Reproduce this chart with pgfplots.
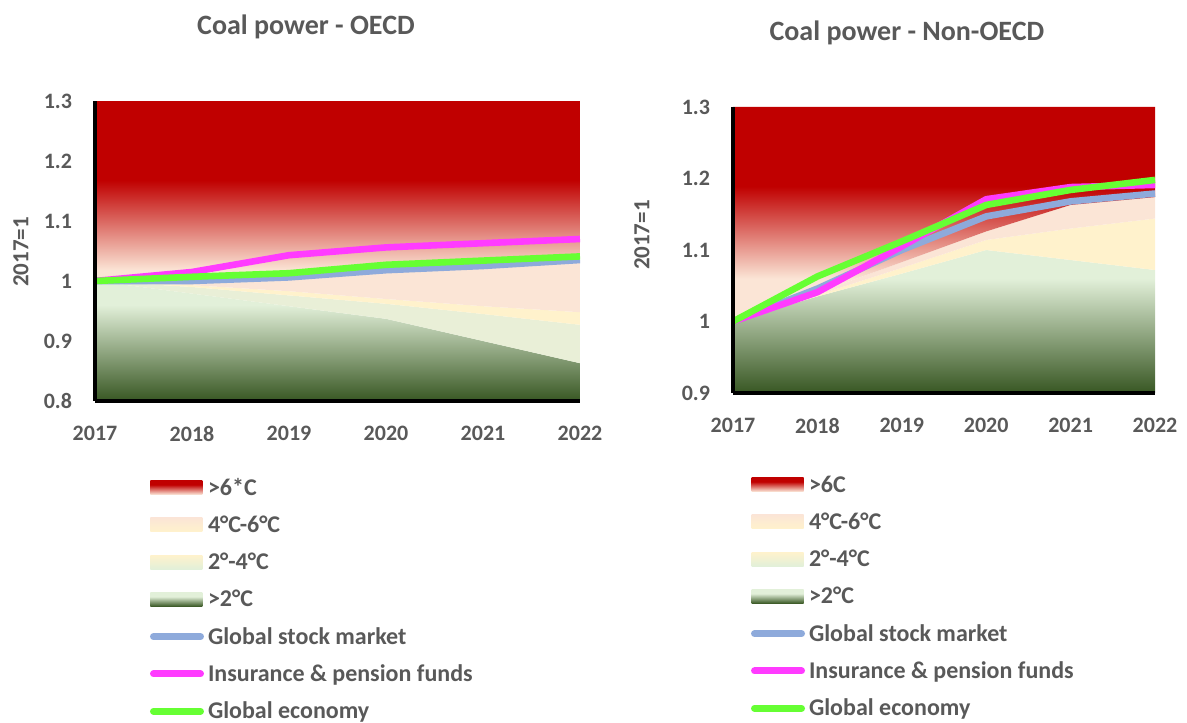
\documentclass[border=0pt]{standalone}
\usepackage{fontspec}
\setmainfont{Carlito}
\usepackage{pgfplots}
\pgfplotsset{compat=1.18}

\definecolor{txt}{HTML}{595959}
\definecolor{cred}{HTML}{C00000}
\definecolor{cpeach}{HTML}{FBE5D6}
\definecolor{cyellow}{HTML}{FFF2CC}
\definecolor{cpale}{HTML}{E9EFD7}
\definecolor{clgreen}{HTML}{E2F0D9}
\definecolor{cdgreen}{HTML}{385723}
\definecolor{cblue}{HTML}{8EAADB}
\definecolor{cmag}{HTML}{FF3BFF}
\definecolor{cgreen}{HTML}{66FF33}

\pgfdeclareverticalshading{redL}{100bp}{color(0bp)=(cpeach); color(28bp)=(cpeach); color(53bp)=(cred); color(100bp)=(cred)}
\pgfdeclareverticalshading{redR}{100bp}{color(0bp)=(cpeach); color(35bp)=(cpeach); color(56.5bp)=(cred); color(100bp)=(cred)}
\pgfdeclareverticalshading{greenL}{100bp}{color(0bp)=(cdgreen); color(25bp)=(cdgreen); color(65bp)=(clgreen); color(100bp)=(clgreen)}
\pgfdeclareverticalshading{greenR}{100bp}{color(0bp)=(cdgreen); color(25bp)=(cdgreen); color(65bp)=(clgreen); color(100bp)=(clgreen)}
\pgfdeclareverticalshading{legsix}{100bp}{color(0bp)=(cpeach); color(25bp)=(cpeach); color(60bp)=(cred); color(100bp)=(cred)}
\pgfdeclareverticalshading{legfour}{100bp}{color(0bp)=(cyellow); color(25bp)=(cyellow); color(75bp)=(cpeach); color(100bp)=(cpeach)}
\pgfdeclareverticalshading{legtwo}{100bp}{color(0bp)=(clgreen); color(25bp)=(clgreen); color(75bp)=(cyellow); color(100bp)=(cyellow)}
\pgfdeclareverticalshading{legone}{100bp}{color(0bp)=(cdgreen); color(25bp)=(cdgreen); color(60bp)=(clgreen); color(100bp)=(clgreen)}

\pgfplotsset{
  common/.style={
    scale only axis, anchor=south west, xmin=2017, xmax=2022,
    xtick={2017,2018,2019,2020,2021,2022},
    xticklabels={2017,2018,2019,2020,2021,2022},
    xticklabel style={yshift=-9pt},
    /pgf/number format/assume math mode=true,
    ticklabel style={font=\bfseries\fontsize{11}{13}\selectfont, text=txt},
    major tick length=0pt,
    axis x line*=bottom, axis y line*=left,
    axis line style={black, line width=2pt, -},
    axis on top, clip=false,
    yticklabel style={xshift=-8pt},
    title style={font=\bfseries\fontsize{14}{16}\selectfont, text=txt, anchor=center, yshift=-6pt},
    ylabel style={font=\bfseries\fontsize{11.5}{13}\selectfont, text=txt, anchor=center},
    legend style={draw=none, fill=none, anchor=north west, inner sep=0pt, outer sep=0pt,
      font=\bfseries\fontsize{12}{14}\selectfont, text=txt, row sep=4.65pt,
      nodes={inner sep=1pt, text height=9.8pt, text depth=2.2pt},
      /tikz/every odd column/.append style={column sep=1pt}},
    legend cell align=left,
  },
  lines/.style={line width=3.3pt, line join=round},
}

\begin{document}
\begin{tikzpicture}
\useasboundingbox (0,0) rectangle (593.5pt,361pt);

% ---------------- Left: OECD ----------------
\begin{axis}[common,
  at={(47.5pt,160.5pt)}, width=242.5pt, height=150pt,
  ymin=0.8, ymax=1.3,
  ytick={0.8,0.9,1,1.1,1.2,1.3},
  yticklabels={0.8,0.9,1,1.1,1.2,1.3},
  title={Coal power - OECD}, title style={at={(0.435,1.247)}},
  ylabel={2017=1}, ylabel style={at={(-0.153,0.497)}},
  legend style={at={(0.1134,-0.2416)}},
]
\addlegendimage{legend image code/.code={\shade[draw=none, shading=legsix] (0pt,-3.5pt) rectangle (26pt,3.5pt);}}
\addlegendentry{>6*C}
\addlegendimage{legend image code/.code={\shade[draw=none, shading=legfour] (0pt,-3.5pt) rectangle (26pt,3.5pt);}}
\addlegendentry{4°C-6°C}
\addlegendimage{legend image code/.code={\shade[draw=none, shading=legtwo] (0pt,-3.5pt) rectangle (26pt,3.5pt);}}
\addlegendentry{2°-4°C}
\addlegendimage{legend image code/.code={\shade[draw=none, shading=legone] (0pt,-3.5pt) rectangle (26pt,3.5pt);}}
\addlegendentry{>2°C}
\addlegendimage{legend image code/.code={\draw[line width=3.5pt, line cap=round, cblue] (1.5pt,0pt) -- (25pt,0pt);}}
\addlegendentry{Global stock market}
\addlegendimage{legend image code/.code={\draw[line width=3.5pt, line cap=round, cmag] (1.5pt,0pt) -- (25pt,0pt);}}
\addlegendentry{Insurance \& pension funds}
\addlegendimage{legend image code/.code={\draw[line width=3.5pt, line cap=round, cgreen] (1.5pt,0pt) -- (25pt,0pt);}}
\addlegendentry{Global economy}

% >2C band
\addplot[forget plot, draw=none, shade, shading=greenL] coordinates {
 (2017,1.0) (2018,0.979) (2019,0.958) (2020,0.937) (2021,0.900) (2022,0.863)
 (2022,0.8) (2017,0.8)} -- cycle;
% 2-4 lower (pale)
\addplot[forget plot, draw=none, fill=cpale] coordinates {
 (2017,1.0) (2018,0.99) (2019,0.976) (2020,0.962) (2021,0.945) (2022,0.927)
 (2022,0.863) (2021,0.900) (2020,0.937) (2019,0.958) (2018,0.979) (2017,1.0)} -- cycle;
% 2-4 upper (yellow)
\addplot[forget plot, draw=none, fill=cyellow] coordinates {
 (2017,1.0) (2018,0.993) (2019,0.983) (2020,0.970) (2021,0.958) (2022,0.948)
 (2022,0.927) (2021,0.945) (2020,0.962) (2019,0.976) (2018,0.99) (2017,1.0)} -- cycle;
% 4-6 (peach)
\addplot[forget plot, draw=none, fill=cpeach] coordinates {
 (2017,1.0) (2018,1.0) (2019,1.005) (2020,1.015) (2021,1.022) (2022,1.03)
 (2022,0.948) (2021,0.958) (2020,0.970) (2019,0.983) (2018,0.993) (2017,1.0)} -- cycle;
% >6 (red)
\addplot[forget plot, draw=none, shade, shading=redL] coordinates {
 (2017,1.3) (2022,1.3)
 (2022,1.03) (2021,1.022) (2020,1.015) (2019,1.005) (2018,1.0) (2017,1.0)} -- cycle;

\addplot[forget plot, lines, cblue] coordinates {
 (2017,1.0) (2018,1.0) (2019,1.006) (2020,1.018) (2021,1.025) (2022,1.035)};
\addplot[forget plot, lines, cmag] coordinates {
 (2017,1.0) (2018,1.015) (2019,1.043) (2020,1.056) (2021,1.063) (2022,1.07)};
\addplot[forget plot, lines, cgreen] coordinates {
 (2017,1.0) (2018,1.007) (2019,1.013) (2020,1.027) (2021,1.034) (2022,1.041)};
\end{axis}

% ---------------- Right: Non-OECD ----------------
\begin{axis}[common,
  at={(366.5pt,164.5pt)}, width=211pt, height=143pt,
  ymin=0.9, ymax=1.3,
  ytick={0.9,1,1.1,1.2,1.3},
  yticklabels={0.9,1,1.1,1.2,1.3},
  title={Coal power - Non-OECD}, title style={at={(0.412,1.259)}},
  ylabel={2017=1}, ylabel style={at={(-0.216,0.552)}},
  legend style={at={(0.0427,-0.2709)}},
]
\addlegendimage{legend image code/.code={\shade[draw=none, shading=legsix] (0pt,-3.5pt) rectangle (26pt,3.5pt);}}
\addlegendentry{>6C}
\addlegendimage{legend image code/.code={\shade[draw=none, shading=legfour] (0pt,-3.5pt) rectangle (26pt,3.5pt);}}
\addlegendentry{4°C-6°C}
\addlegendimage{legend image code/.code={\shade[draw=none, shading=legtwo] (0pt,-3.5pt) rectangle (26pt,3.5pt);}}
\addlegendentry{2°-4°C}
\addlegendimage{legend image code/.code={\shade[draw=none, shading=legone] (0pt,-3.5pt) rectangle (26pt,3.5pt);}}
\addlegendentry{>2°C}
\addlegendimage{legend image code/.code={\draw[line width=3.5pt, line cap=round, cblue] (1.5pt,0pt) -- (25pt,0pt);}}
\addlegendentry{Global stock market}
\addlegendimage{legend image code/.code={\draw[line width=3.5pt, line cap=round, cmag] (1.5pt,0pt) -- (25pt,0pt);}}
\addlegendentry{Insurance \& pension funds}
\addlegendimage{legend image code/.code={\draw[line width=3.5pt, line cap=round, cgreen] (1.5pt,0pt) -- (25pt,0pt);}}
\addlegendentry{Global economy}

% >2C band
\addplot[forget plot, draw=none, shade, shading=greenR] coordinates {
 (2017,1.0) (2018,1.035) (2019,1.067) (2020,1.10) (2021,1.086) (2022,1.072)
 (2022,0.9) (2017,0.9)} -- cycle;
% 2-4 (yellow)
\addplot[forget plot, draw=none, fill=cyellow] coordinates {
 (2017,1.0) (2018,1.037) (2019,1.075) (2020,1.114) (2021,1.13) (2022,1.144)
 (2022,1.072) (2021,1.086) (2020,1.10) (2019,1.067) (2018,1.035) (2017,1.0)} -- cycle;
% 4-6 (peach)
\addplot[forget plot, draw=none, fill=cpeach] coordinates {
 (2017,1.0) (2018,1.04) (2019,1.083) (2020,1.126) (2021,1.163) (2022,1.174)
 (2022,1.144) (2021,1.13) (2020,1.114) (2019,1.075) (2018,1.037) (2017,1.0)} -- cycle;
% >6 (red)
\addplot[forget plot, draw=none, shade, shading=redR] coordinates {
 (2017,1.3) (2022,1.3)
 (2022,1.174) (2021,1.163) (2020,1.126) (2019,1.083) (2018,1.04) (2017,1.0)} -- cycle;

\addplot[forget plot, lines, cblue] coordinates {
 (2017,1.0) (2018,1.046) (2019,1.10) (2020,1.147) (2021,1.168) (2022,1.179)};
\addplot[forget plot, lines, cmag] coordinates {
 (2017,1.0) (2018,1.041) (2019,1.105) (2020,1.171) (2021,1.188) (2022,1.191)};
\addplot[forget plot, lines, cgreen] coordinates {
 (2017,1.0) (2018,1.063) (2019,1.112) (2020,1.163) (2021,1.184) (2022,1.198)};
\end{axis}
\end{tikzpicture}
\end{document}
